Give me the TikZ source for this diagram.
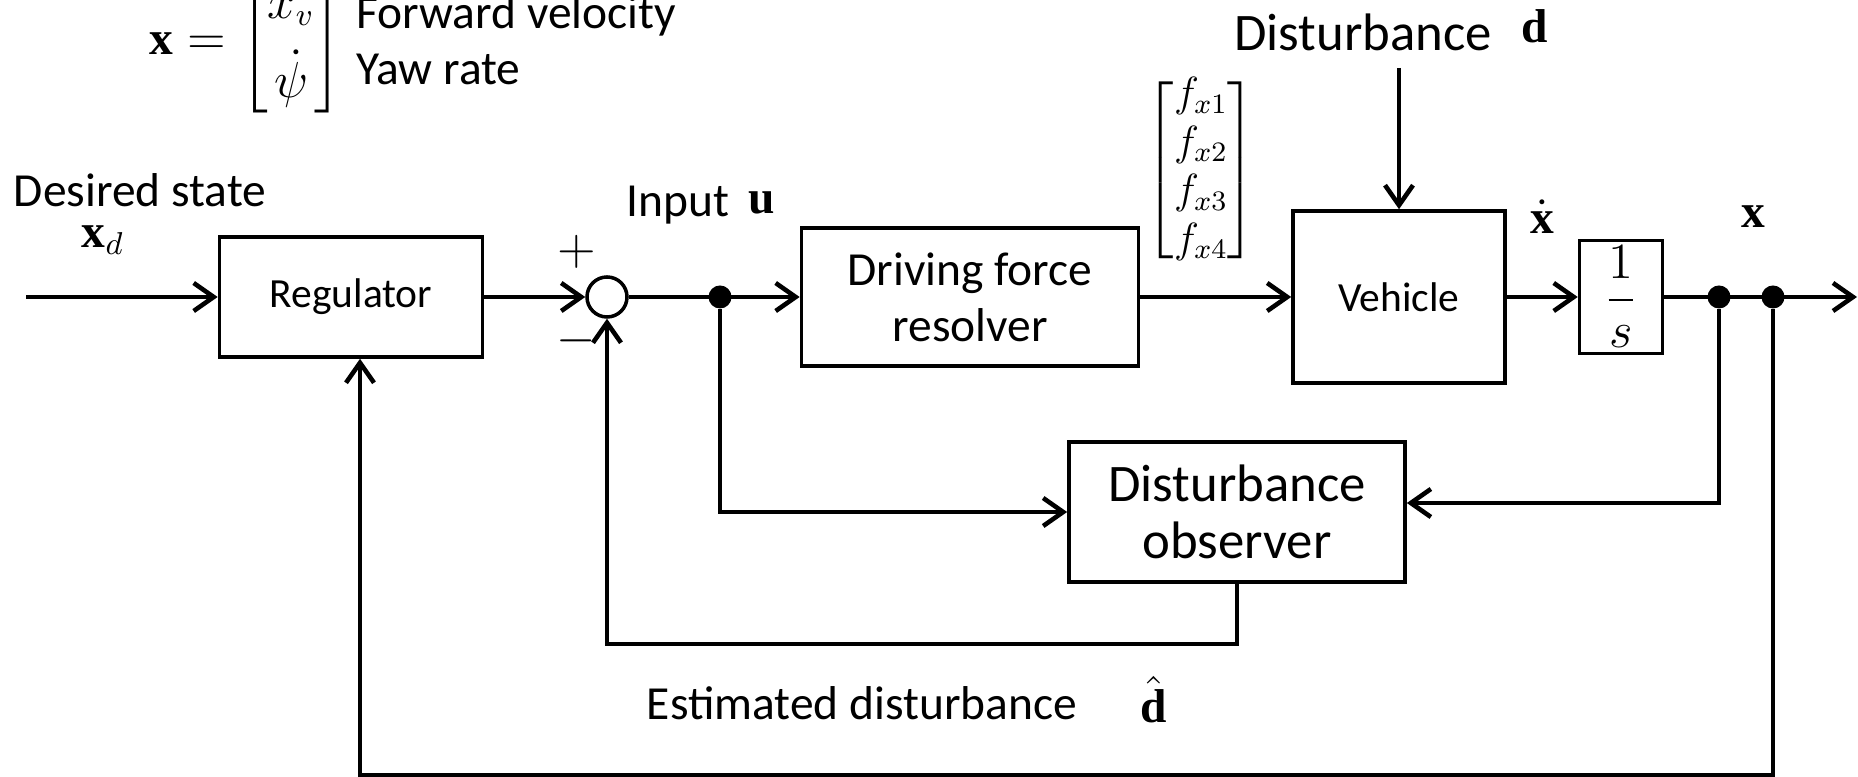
\documentclass[tikz,border=0pt]{standalone}
\usepackage{amsmath,amssymb,bm}
\usepackage{fontspec}
\setmainfont{Carlito}
\setmathrm{Liberation Serif}
\usetikzlibrary{arrows.meta,positioning,calc}
\tikzset{
  blk/.style={draw,line width=1pt,align=center,inner sep=0pt},
  jdot/.style={circle,fill,inner sep=0pt,minimum size=0.23cm},
  sig/.style={line width=1.3pt,-{Straight Barb[length=2mm,width=2.8mm]}}
}

\begin{document}
\begin{tikzpicture}[x=0.01cm,y=-0.01cm,font=\fontsize{13.5}{16}\selectfont]
    \useasboundingbox (0,0) rectangle (1858,777);
    \node[blk,minimum width=2.63cm,minimum height=1.2cm,font=\fontsize{11.8}{14}\selectfont] (reg) at (351,297) {Regulator};
    \node[draw,circle,line width=1pt,minimum size=0.4cm,inner sep=0pt] (sum) at (607,297) {};
    \node[blk,minimum width=3.37cm,minimum height=1.38cm] (dfr) at (970,297) {Driving force\\resolver};
    \node[blk,minimum width=2.12cm,minimum height=1.72cm,font=\fontsize{11.8}{14}\selectfont] (veh) at (1399,297) {Vehicle};
    \node[blk,minimum width=0.83cm,minimum height=1.13cm] (integ) at (1621,297) {$\displaystyle\frac{1}{s}$};
    \node[blk,minimum width=3.36cm,minimum height=1.4cm,font=\fontsize{15}{16}\selectfont] (obs) at (1237,512) {Disturbance\\observer};
    \foreach \n/\x in {j1/720,j2/1719,j3/1773}
      \node[jdot] (\n) at (\x,297) {};
    \coordinate (xin) at (26,297);
    \coordinate (xout) at (1857,297);
    \coordinate (dtop) at (1399,68);
    \coordinate (dh) at (607,644);
    \coordinate (fb) at (360,775);

    \node (des) at (140,190) {Desired state};
    \node (xd) at (103,240) {$\mathbf{x}_d$};
    \node (plus) at (577,252) {$+$};
    \node (minus) at (576,341) {$-$};
    \node (inp) at (678,205) {Input};
    \node (u) at (762,203) {$\mathbf{u}$};
    \node[font=\fontsize{12}{13.8}\selectfont] (fvec) at (1201,170)
      {$\begin{bmatrix}f_{x1}\\ f_{x2}\\ f_{x3}\\ f_{x4}\end{bmatrix}$};
    \node[font=\fontsize{15}{18}\selectfont] (dist) at (1363,32) {Disturbance};
    \node (d) at (1535,26) {$\mathbf{d}$};
    \node (xdot) at (1542,217) {$\dot{\mathbf{x}}$};
    \node (xlab) at (1753,217) {$\mathbf{x}$};
    \node (est) at (862,703) {Estimated disturbance};
    \node (dhat) at (1154,700) {$\hat{\mathbf{d}}$};
    \node (xdef) at (246,42) {\renewcommand{\arraystretch}{1.4}$\mathbf{x}=\begin{bmatrix}x_v\\ \dot{\psi}\end{bmatrix}$};
    \node[anchor=west,align=left] (xname) at (344,40) {Forward velocity\\Yaw rate};

    \draw[sig] (xin) -- (reg);
    \draw[sig] (reg) -- (sum);
    \draw[sig] (sum) -- (dfr);
    \draw[sig] (dfr) -- (veh);
    \draw[sig] (veh) -- (integ);
    \draw[sig] (integ) -- (xout);
    \draw[sig] (dtop) -- (veh);
    \draw[sig] (j2) |- ($(obs.east)+(0,-9)$);
    \draw[sig] (j1) |- (obs.west);
    \draw[sig] (obs.south) |- (dh) -- (sum);
    \draw[sig] (j3) |- (fb) -- (fb |- reg.south);
\end{tikzpicture}
\end{document}
